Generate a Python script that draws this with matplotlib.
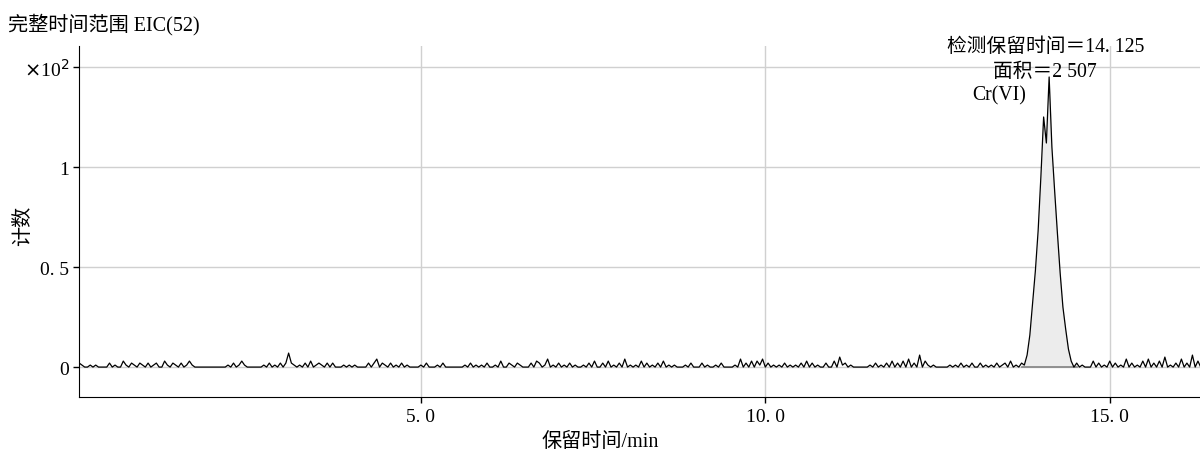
import numpy as np
import matplotlib
matplotlib.use("Agg")
import matplotlib.pyplot as plt

plt.rcParams['font.family'] = ['Liberation Serif', 'Noto Sans CJK SC', 'DejaVu Sans']

# ---------- datos (cuentas x10^2, paso 0.04 min) ----------
t_start = 0.04
t_step = 0.04

# ruido de fondo antes del pico (cuentas, se divide entre 100)
noise_before = (
    "2100101000" "0201003102" "1021020120" "0310210201" "3100000000"
    "0000102013" "1000000102" "0102027210" "1020301210" "2020001010"
    "1000020240" "2102010201" "0000102000" "1020000000" "1020101020"
    "0103002102" "1000203201" "4010201020" "1001020300" "2030102040"
    "1010302010" "2030101000" "1020002010" "0102000010" "4020303140"
    "2010102010" "1020302010" "0200305120" "1000000102" "0102030203"
    "0402060310" "1000001010" "2010200201" "0102012030" "102"
)
# pico Cr(VI), 13.76 - 14.48 min
peak_vals = [0.01, 0.06, 0.16, 0.32, 0.48, 0.68, 0.95, 1.25, 1.12, 1.45,
             1.10, 0.88, 0.67, 0.47, 0.30, 0.19, 0.09, 0.03, 0.00]
noise_after = (
    "2010003020" "1030201040" "2010304020" "3050102040" "206030"
)

title = "完整时间范围 EIC(52)"
xlabel = "保留时间/min"
ylabel = "计数"
xticks = [5.0, 10.0, 15.0]
xticklabels = ["5. 0", "10. 0", "15. 0"]
yticks = [0, 0.5, 1, 1.5]
yticklabels = ["0", "0. 5", "1", r"$\times$10$^2$"]
ann_rt = "检测保留时间＝14. 125"
ann_area = "面积＝2 507"
ann_name = "Cr(VI)"


def main():
    y = np.array([int(c) / 100 for c in noise_before] + peak_vals +
                 [int(c) / 100 for c in noise_after])
    t = t_start + t_step * np.arange(len(y))

    i0 = len(noise_before) - 1
    i1 = i0 + len(peak_vals) + 1

    fig = plt.figure(figsize=(12, 4.56), dpi=100)
    ax = fig.add_axes([0.066, 0.127, 0.934, 0.77])

    ax.fill_between(t[i0:i1 + 1], 0, y[i0:i1 + 1], color="#ececec", lw=0)
    ax.plot([t[i0], t[i1]], [0, 0], color="#808080", lw=1.2)
    ax.plot(t, y, color="black", lw=0.9)

    ax.set_xlim(0.04, 16.31)
    ax.set_ylim(-0.15, 1.605)
    ax.set_xticks(xticks)
    ax.set_xticklabels(xticklabels, fontsize=14)
    ax.set_yticks(yticks)
    ax.set_yticklabels(yticklabels, fontsize=14)
    ax.grid(True, color="#d0d0d0", lw=1)
    ax.set_axisbelow(True)
    for s in ["top", "right"]:
        ax.spines[s].set_visible(False)
    ax.tick_params(length=4, width=1)

    ax.set_xlabel(xlabel, fontsize=14.5)
    ax.set_ylabel(ylabel, fontsize=14.5)
    ax.xaxis.set_label_coords(0.465, -0.1)
    ax.yaxis.set_label_coords(-0.041, 0.49)

    fig.text(0.007, 0.945, title, fontsize=14.5, va="center")

    ax.text(14.07, 1.60, ann_rt, fontsize=14.2, ha="center", va="center")
    ax.text(14.06, 1.475, ann_area, fontsize=14.2, ha="center", va="center")
    ax.text(13.39, 1.36, ann_name, fontsize=14.2, ha="center", va="center")

    fig.savefig("out.png", dpi=100)


if __name__ == "__main__":
    main()
